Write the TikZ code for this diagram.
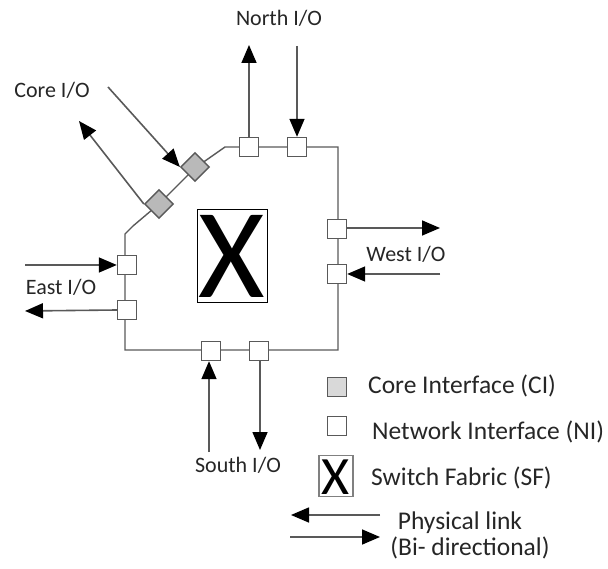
\documentclass[tikz,border=0pt]{standalone}
\usepackage{fontspec}
\setmainfont{Carlito}
\usetikzlibrary{arrows.meta}
\definecolor{ringc}{HTML}{595959}
\definecolor{txt}{HTML}{262626}
\tikzset{
  ni/.style={draw=ringc, line width=1.4pt, fill=white, minimum size=19pt, inner sep=0pt},
  ci/.style={draw=ringc, line width=1.4pt, fill=gray!55, minimum size=20pt, inner sep=0pt, rotate=45},
  io/.style={line width=1.6pt, draw=ringc, -{Triangle[length=18pt,width=15pt,color=black]}},
  lbl/.style={text=txt, font=\fontsize{22}{24}\selectfont, inner sep=0pt},
  leg/.style={text=txt, font=\fontsize{25.5}{28}\selectfont, inner sep=0pt, anchor=west},
  ring/.style={draw=ringc, line width=1.4pt}
}
\begin{document}
\begin{tikzpicture}[x=1pt,y=-1pt]
\useasboundingbox (0,0) rectangle (608,569);
% ring
\draw[ring] (125,350) -- (125,234) -- (133,226) -- (159,204) -- (195,168) -- (225,147) -- (338,147) -- (338,350) -- cycle;
% NIs
\node[ni] (n1) at (249,147) {};
\node[ni] (n2) at (297,147) {};
\node[ni] (w1) at (337,229) {};
\node[ni] (w2) at (337,274) {};
\node[ni] (s1) at (211,351) {};
\node[ni] (s2) at (259,351) {};
\node[ni] (e1) at (127,265) {};
\node[ni] (e2) at (127,310) {};
\node[ci] (c1) at (159,204) {};
\node[ci] (c2) at (195,167) {};
% switch fabric
\node[draw=black, line width=1pt, minimum width=70pt, minimum height=93pt, inner sep=0pt] (sf) at (232,256) {};
\node[inner sep=0pt, font=\fontsize{128}{128}\selectfont] (sfx) at (232,256) {X};
% free ends
\coordinate (nup) at (249,45);
\coordinate (ndn) at (297,46);
\coordinate (cin) at (108,87);
\coordinate (cout) at (79,121);
\coordinate (wout) at (440,228);
\coordinate (win) at (440,274);
\coordinate (ein) at (25,265);
\coordinate (eout) at (25,311);
\coordinate (sin) at (209,452);
\coordinate (sout) at (260,450);
% IO arrows
\draw[io] (n1.north) -- (nup);
\draw[io] (ndn) -- (n2.north);
\draw[io] (cin) -- (c2.north west);
\draw[io] (c1.north west) -- (cout);
\draw[io] (w1.east |- wout) -- (wout);
\draw[io] (win) -- (w2.east);
\draw[io] (ein) -- (e1.west);
\draw[io] (e2.west) -- (eout);
\draw[io] (sin) -- (sin |- s1.south);
\draw[io] (s2.south -| sout) -- (sout);
% labels
\node[lbl] (ln) at (279,18) {North I/O};
\node[lbl] (lc) at (52,90) {Core I/O};
\node[lbl] (lw) at (406,254) {West I/O};
\node[lbl] (le) at (61,287) {East I/O};
\node[lbl] (ls) at (238,465) {South I/O};
% legend
\node[draw=ringc, line width=1.4pt, fill=gray!30, minimum size=19pt, inner sep=0pt] (kci) at (337,387) {};
\node[leg] (tci) at (368,386) {Core Interface (CI)};
\node[draw=ringc, line width=1.4pt, fill=white, minimum size=19pt, inner sep=0pt] (kni) at (337,426) {};
\node[leg] (tni) at (372,432) {Network Interface (NI)};
\node[draw=gray, line width=1.6pt, minimum width=34pt, minimum height=41pt, inner sep=0pt] (ksf) at (336,476) {};
\node[inner sep=0pt, font=\fontsize{54}{54}\selectfont] (ksfx) at (336,477) {X};
\node[leg] (tsf) at (371,478) {Switch Fabric (SF)};
\coordinate (k1a) at (380,515);
\coordinate (k1b) at (291,515);
\coordinate (k2a) at (290,537);
\coordinate (k2b) at (380,537);
\draw[io] (k1a) -- (k1b);
\draw[io] (k2a) -- (k2b);
\node[text=txt, font=\fontsize{25.5}{28}\selectfont, inner sep=0pt] (tpl) at (460,523) {Physical link};
\node[text=txt, font=\fontsize{25.5}{28}\selectfont, inner sep=0pt] (tbd) at (470,548) {(Bi- directional)};
\end{tikzpicture}
\end{document}
